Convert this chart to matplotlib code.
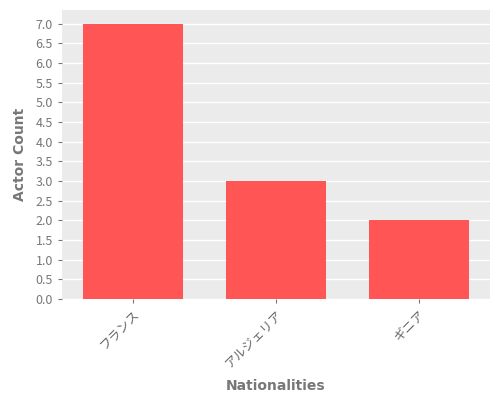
import matplotlib
matplotlib.use("Agg")
import matplotlib.pyplot as plt
from matplotlib.ticker import MultipleLocator, FormatStrFormatter

plt.rcParams['font.family'] = ['Noto Sans CJK JP', 'DejaVu Sans']

categories = ["フランス", "アルジェリア", "ギニア"]
counts = [7, 3, 2]

fig = plt.figure(figsize=(5, 4), dpi=100)
ax = fig.add_axes([0.124, 0.2525, 0.856, 0.7225])
ax.set_facecolor('#EBEBEB')
ax.bar(range(len(categories)), counts, width=0.7, color='#FF5555', zorder=3)
ax.set_xlim(-0.5, 2.5)
ax.set_ylim(0, 7.35)
ax.yaxis.set_major_locator(MultipleLocator(0.5))
ax.yaxis.set_major_formatter(FormatStrFormatter('%.1f'))
ax.grid(axis='y', color='white', linewidth=1, zorder=0)
ax.set_xticks(range(len(categories)))
ax.set_xticklabels(categories, rotation=45, ha='right', rotation_mode='anchor')
for s in ax.spines.values():
    s.set_visible(False)
ax.tick_params(colors='#777777', labelsize=9, length=3)
ax.tick_params(axis='x', labelcolor='#666666')
ax.set_xlabel('Nationalities', color='#777777', fontsize=10, fontweight='bold', labelpad=6,
              family=['DejaVu Sans'])
ax.set_ylabel('Actor Count', color='#777777', fontsize=10, fontweight='bold', labelpad=6,
              family=['DejaVu Sans'])
fig.savefig('out.png', dpi=100)
